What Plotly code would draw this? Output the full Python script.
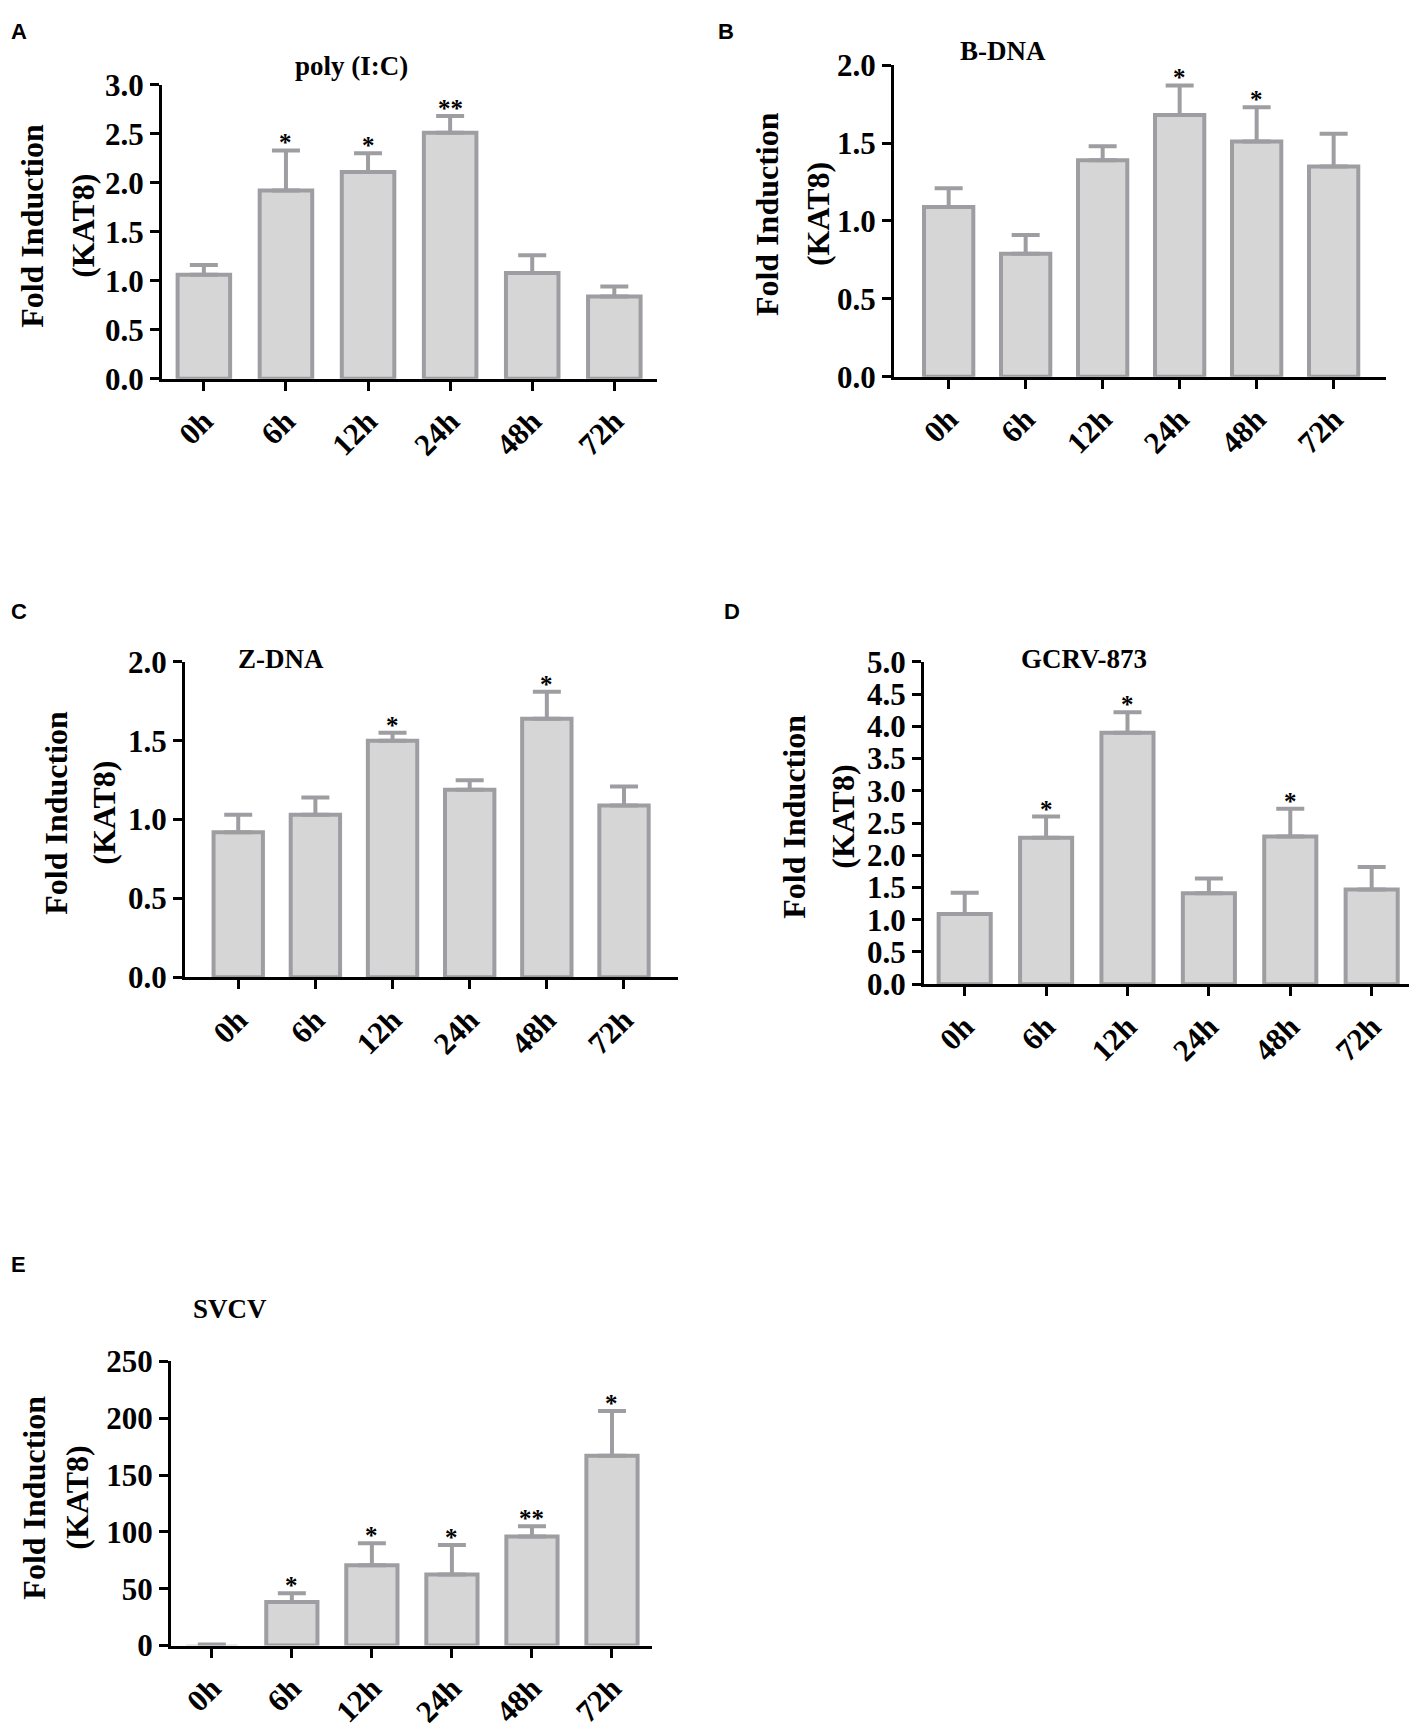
import plotly.graph_objects as go

W, H = 1417, 1732
OFF = 8  # page body margin around the figure

hours = ['0h', '6h', '12h', '24h', '48h', '72h']

# A - poly (I:C)
polyic_mean = [1.06, 1.92, 2.11, 2.51, 1.08, 0.84]
polyic_err = [0.10, 0.41, 0.19, 0.17, 0.18, 0.10]
polyic_sig = ['', '*', '*', '**', '', '']

# B - B-DNA
bdna_mean = [1.09, 0.79, 1.39, 1.68, 1.51, 1.35]
bdna_err = [0.12, 0.12, 0.09, 0.19, 0.22, 0.21]
bdna_sig = ['', '', '', '*', '*', '']

# C - Z-DNA
zdna_mean = [0.92, 1.03, 1.50, 1.19, 1.64, 1.09]
zdna_err = [0.11, 0.11, 0.05, 0.06, 0.17, 0.12]
zdna_sig = ['', '', '*', '', '*', '']

# D - GCRV-873
gcrv_mean = [1.09, 2.27, 3.90, 1.41, 2.29, 1.47]
gcrv_err = [0.33, 0.33, 0.32, 0.23, 0.43, 0.35]
gcrv_sig = ['', '*', '*', '', '*', '']

# E - SVCV
svcv_mean = [1.0, 38.3, 70.6, 62.5, 95.9, 167.0]
svcv_err = [0.0, 7.7, 19.5, 25.9, 9.1, 39.5]
svcv_sig = ['', '*', '*', '*', '**', '*']

SERIF = 'Liberation Serif, Times New Roman, serif'
SANS = 'Liberation Sans, Arial, sans-serif'
BAR_FILL = '#d6d6d6'
BAR_EDGE = '#9e9ea2'


def px(x):
    return (x - OFF) / W


def py(y):
    return 1 - (y - OFF) / H


# pixel boxes: (x_axis_left, x_axis_right, y_top, y_bottom), x range, y range, ticks
panels = [
    dict(letter='A', lpos=(9, 15), title='poly (I:C)', tpos=(351, 50),
         mean=polyic_mean, err=polyic_err, sig=polyic_sig,
         box=(162, 657, 69, 369), xr=[-0.51, 5.52], yr=[0, 3], dtick=0.5, fmt='.1f',
         ytitle=(32, 83, 213)),
    dict(letter='B', lpos=(716, 15), title='B-DNA', tpos=(1003, 35),
         mean=bdna_mean, err=bdna_err, sig=bdna_sig,
         box=(894, 1386, 49, 367), xr=[-0.71, 5.68], yr=[0, 2], dtick=0.5, fmt='.1f',
         ytitle=(767, 818, 201)),
    dict(letter='C', lpos=(9, 607), title='Z-DNA', tpos=(281, 655),
         mean=zdna_mean, err=zdna_err, sig=zdna_sig,
         box=(185, 678, 658, 980), xr=[-0.69, 5.70], yr=[0, 2], dtick=0.5, fmt='.1f',
         ytitle=(56, 104, 812)),
    dict(letter='D', lpos=(722, 607), title='GCRV-873', tpos=(1084, 655),
         mean=gcrv_mean, err=gcrv_err, sig=gcrv_sig,
         box=(924, 1414, 658, 987), xr=[-0.5, 5.52], yr=[0, 5], dtick=0.5, fmt='.1f',
         ytitle=(794, 843, 816)),
    dict(letter='E', lpos=(9, 1273), title='SVCV', tpos=(230, 1318),
         mean=svcv_mean, err=svcv_err, sig=svcv_sig,
         box=(171, 652, 1372, 1662), xr=[-0.51, 5.5], yr=[0, 250], dtick=50, fmt='d',
         ytitle=(34, 77, 1511)),
]

fig = go.Figure()
annotations = []
layout = {}

for i, p in enumerate(panels):
    n = '' if i == 0 else str(i + 1)
    x0, x1, yt, yb = p['box']
    # bars only a pixel or two tall disappear under the axis line
    pix_per_unit = (yb - yt) / p['yr'][1]
    edge_w = [4 if v * pix_per_unit > 6 else 0 for v in p['mean']]
    fig.add_trace(go.Bar(
        x=hours, y=p['mean'],
        xaxis='x' + n, yaxis='y' + n,
        width=0.64,
        marker=dict(color=BAR_FILL, line=dict(color=BAR_EDGE, width=edge_w)),
        error_y=dict(type='data', array=p['err'], arrayminus=[0] * 6, symmetric=False,
                     color=BAR_EDGE, thickness=4, width=14),
        showlegend=False,
    ))
    layout['xaxis' + n] = dict(
        domain=[px(x0), min(px(x1), 1.0)], anchor='y' + n, type='category',
        range=p['xr'], showline=True, linecolor='black', linewidth=3,
        ticks='outside', ticklen=9, tickwidth=3, tickcolor='black',
        tickangle=-45, showgrid=False, zeroline=False,
        tickfont=dict(family=SERIF, size=31, color='black', weight='bold'),
    )
    layout['yaxis' + n] = dict(
        domain=[py(yb), py(yt)], anchor='x' + n,
        range=p['yr'], dtick=p['dtick'], tickformat=p['fmt'],
        showline=True, linecolor='black', linewidth=3,
        ticks='outside', ticklen=9, tickwidth=3, tickcolor='black',
        showgrid=False, zeroline=False,
        tickfont=dict(family=SERIF, size=31, color='black', weight='bold'),
    )
    # significance marks
    for h, m, e, s in zip(hours, p['mean'], p['err'], p['sig']):
        if s:
            annotations.append(dict(
                x=h, y=m + e, xref='x' + n, yref='y' + n, text=s, showarrow=False,
                xanchor='center', yanchor='bottom', yshift=-8,
                font=dict(family=SERIF, size=25, color='black', weight='bold'),
            ))
    # panel letter
    lx, ly = p['lpos']
    annotations.append(dict(
        x=max(px(lx), 0), y=py(ly), xref='paper', yref='paper', text=p['letter'],
        showarrow=False, xanchor='left', yanchor='middle',
        font=dict(family=SANS, size=22, color='black', weight='bold'),
    ))
    # panel title
    tx, ty = p['tpos']
    annotations.append(dict(
        x=px(tx), y=py(ty), xref='paper', yref='paper', text=p['title'],
        showarrow=False, xanchor='center', yanchor='middle',
        font=dict(family=SERIF, size=27, color='black', weight='bold'),
    ))
    # y axis title, two lines
    ax1, ax2, ay = p['ytitle']
    for tx_, txt in ((ax1, 'Fold Induction'), (ax2, '(KAT8)')):
        annotations.append(dict(
            x=px(tx_), y=py(ay), xref='paper', yref='paper', text=txt,
            showarrow=False, textangle=-90, xanchor='center', yanchor='middle',
            font=dict(family=SERIF, size=32, color='black', weight='bold'),
        ))

fig.update_layout(
    width=W, height=H,
    margin=dict(l=0, r=0, t=0, b=0),
    paper_bgcolor='white', plot_bgcolor='white',
    annotations=annotations,
    **layout,
)

fig.write_html("out.html")
